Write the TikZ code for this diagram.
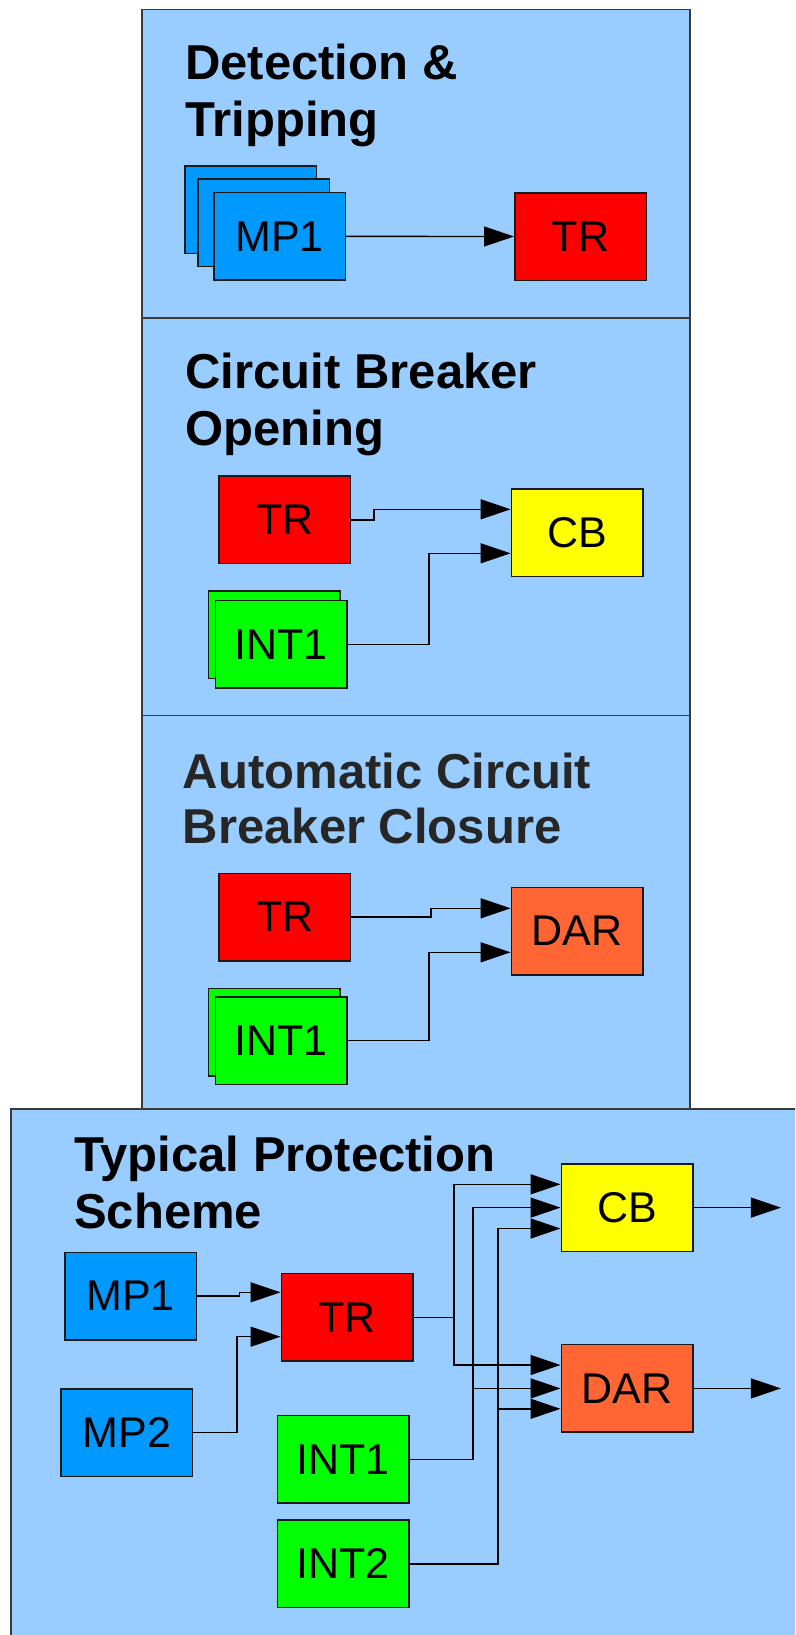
\documentclass[tikz,border=0pt]{standalone}
\usepackage{fontspec}
\setmainfont{Liberation Sans}
\usetikzlibrary{arrows.meta}
\definecolor{panelblue}{HTML}{99CCFF}
\definecolor{panelline}{HTML}{3A3A3A}
\definecolor{boxline}{HTML}{1A1A1A}
\definecolor{mpblue}{HTML}{0099FF}
\definecolor{trred}{HTML}{FF0000}
\definecolor{cbyellow}{HTML}{FFFF00}
\definecolor{intgreen}{HTML}{00FF00}
\definecolor{darorange}{HTML}{FF6633}
\definecolor{titlegray}{HTML}{262626}
\begin{document}
\begin{tikzpicture}[x=1pt,y=-1pt,
  panel/.style={fill=panelblue,draw=panelline,line width=1.5pt},
  blk/.style={draw=boxline,line width=1.5pt,minimum width=131.5pt,minimum height=87.5pt,inner sep=0pt,font=\fontsize{43}{43}\selectfont},
  mpbox/.style={blk,fill=mpblue},
  trbox/.style={blk,fill=trred},
  cbbox/.style={blk,fill=cbyellow},
  intbox/.style={blk,fill=intgreen},
  darbox/.style={blk,fill=darorange},
  ttl/.style={anchor=base west,inner sep=0pt,font=\fontsize{49}{56}\selectfont\bfseries},
  arr/.style={line width=1.4pt,draw=black,-{Triangle[length=30pt,width=20pt]}},
]
\useasboundingbox (0,0) rectangle (795,1635);
\clip (0,0) rectangle (795,1635);
\fill[white] (0,0) rectangle (795,1635);

% panels
\draw[panel] (142,9.3) rectangle (690,318);
\draw[panel] (142,318) rectangle (690,715.5);
\draw[panel] (142,715.5) rectangle (690,1109);
\draw[panel] (11,1109) rectangle (840,1680);

% ---------- Panel 1: Detection & Tripping
\node[ttl] (t1a) at (185,80) {Detection \&};
\node[ttl] (t1b) at (185,137) {Tripping};
\node[mpbox] (p1mpc) at (250.9,209.5) {};
\node[mpbox] (p1mpb) at (263.5,222.5) {};
\node[mpbox] (p1mp) at (279.5,236.4) {MP1};
\node[trbox] (p1tr) at (580.5,236.5) {TR};
\draw[arr] (p1mp.east) -- (p1tr.west);

% ---------- Panel 2: Circuit Breaker Opening
\node[ttl] (t2a) at (185.4,388.3) {Circuit Breaker};
\node[ttl] (t2b) at (185.4,445) {Opening};
\node[trbox] (p2tr) at (284.8,519.8) {TR};
\node[cbbox] (p2cb) at (577.1,532.5) {CB};
\node[intbox] (p2intb) at (274.1,634.8) {};
\node[intbox] (p2int) at (281.1,644.4) {INT1};
\draw[arr] (p2tr.east) -- ++(22.6,0) |- ([yshift=23.2pt]p2cb.west);
\draw[arr] (p2int.east) -- ++(81.2,0) |- ([yshift=-20.8pt]p2cb.west);

% ---------- Panel 3: Automatic Circuit Breaker Closure
\node[ttl,text=titlegray] (t3a) at (182.7,788.3) {Automatic Circuit};
\node[ttl,text=titlegray] (t3b) at (182.7,843.3) {Breaker Closure};
\node[trbox] (p3tr) at (284.8,917) {TR};
\node[darbox] (p3dar) at (577.1,931) {DAR};
\node[intbox] (p3intb) at (274.1,1032) {};
\node[intbox] (p3int) at (281.1,1040.7) {INT1};
\draw[arr] (p3tr.east) -- ++(79.6,0) |- ([yshift=22.7pt]p3dar.west);
\draw[arr] (p3int.east) -- ++(81.5,0) |- ([yshift=-21.3pt]p3dar.west);

% ---------- Bottom panel: Typical Protection Scheme
\node[ttl] (t4a) at (74,1171.7) {Typical Protection};
\node[ttl] (t4b) at (74,1228.3) {Scheme};
\node[mpbox] (bmp1) at (130.6,1296) {MP1};
\node[mpbox] (bmp2) at (126.8,1432.5) {MP2};
\node[trbox] (btr) at (347,1317.4) {TR};
\node[cbbox] (bcb) at (627,1207.6) {CB};
\node[darbox] (bdar) at (627,1388.4) {DAR};
\node[intbox] (bint1) at (343.3,1459.4) {INT1};
\node[intbox] (bint2) at (343.3,1563.8) {INT2};
\coordinate (cbout) at ([xshift=87.4pt]bcb.east);
\coordinate (darout) at ([xshift=87.4pt]bdar.east);

\draw[arr] (bmp1.east) -- ++(42.1,0) |- ([yshift=25.1pt]btr.west);
\draw[arr] (bmp2.east) -- ++(43.6,0) |- ([yshift=-19.3pt]btr.west);

\draw[arr] (btr.east) -- ++(40.3,0) |- ([yshift=23.3pt]bcb.west);
\draw[arr] (btr.east) -- ++(40.3,0) |- ([yshift=23.4pt]bdar.west);

\draw[arr] (bint1.east) -- ++(63.3,0) |- (bcb.west);
\draw[arr] (bint1.east) -- ++(63.3,0) |- (bdar.west);

\draw[arr] (bint2.east) -- ++(88.2,0) |- ([yshift=-20.9pt]bcb.west);
\draw[arr] (bint2.east) -- ++(88.2,0) |- ([yshift=-20.4pt]bdar.west);

\draw[arr] (bcb.east) -- (cbout);
\draw[arr] (bdar.east) -- (darout);
\end{tikzpicture}
\end{document}
